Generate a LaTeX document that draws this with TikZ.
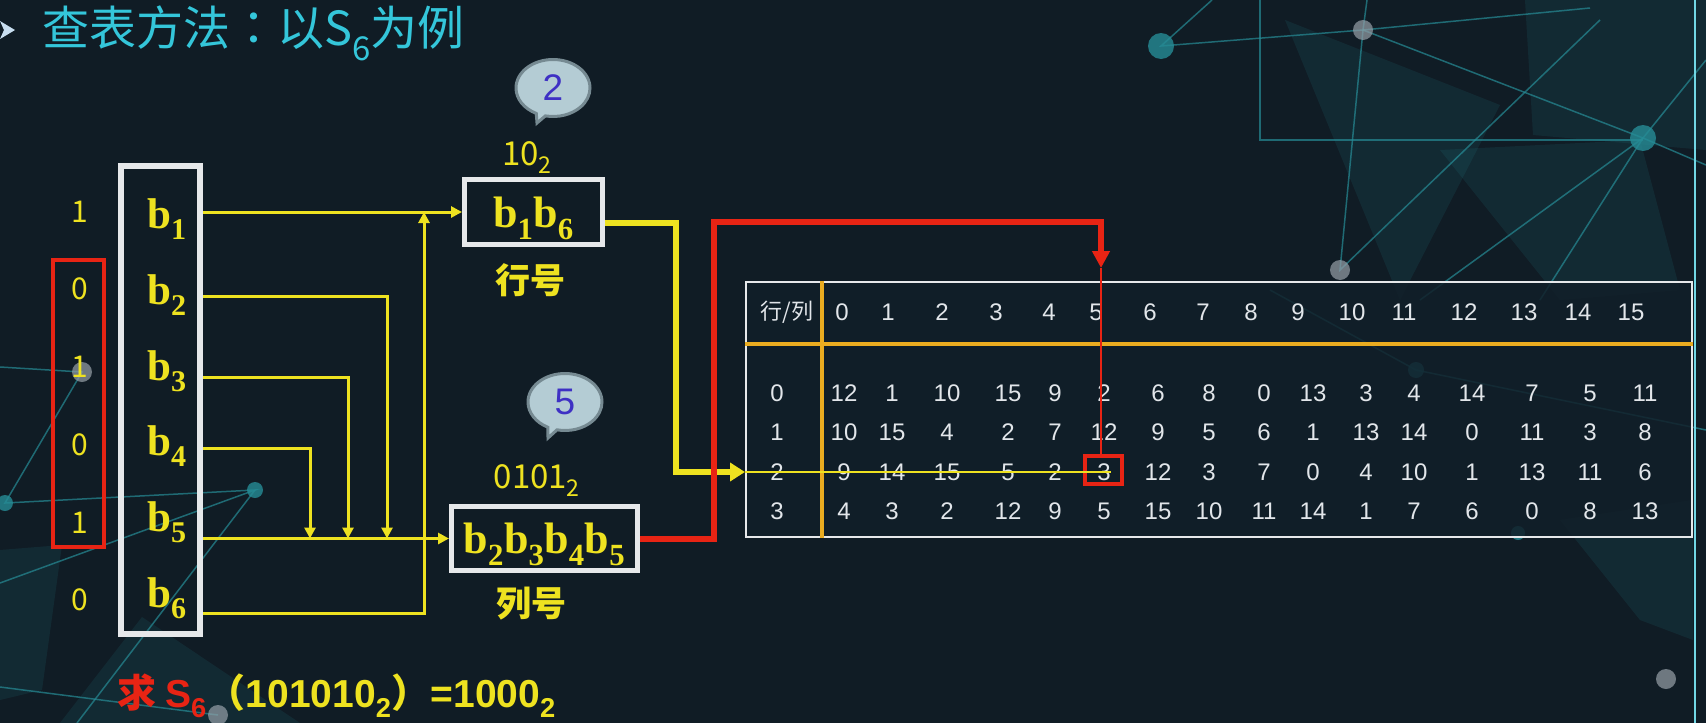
\documentclass[tikz,border=0pt]{standalone}
\usepackage{fontspec}
\setmainfont{Liberation Serif}
\newfontfamily\cjk{Noto Sans CJK SC}
\newfontfamily\cjktc{Noto Sans CJK TC}
\newfontfamily\arial{Liberation Sans}
\usetikzlibrary{arrows.meta,shapes.callouts}
\definecolor{bgnavy}{RGB}{16,28,37}
\definecolor{tblfill}{RGB}{17,31,41}
\definecolor{ttlcyan}{RGB}{52,198,218}
\definecolor{byellow}{RGB}{238,226,32}
\definecolor{bred}{RGB}{232,36,20}
\definecolor{boxwhite}{RGB}{230,232,234}
\definecolor{tblorange}{RGB}{234,172,32}
\definecolor{tbltext}{RGB}{226,230,234}
\definecolor{bubfill}{RGB}{180,204,212}
\definecolor{bubedge}{RGB}{118,138,146}
\definecolor{bubtext}{RGB}{62,48,196}
\definecolor{decoteal}{RGB}{38,140,150}
\definecolor{decogray}{RGB}{150,160,168}
\definecolor{bulletc}{RGB}{200,222,240}
\newcommand\fs[1]{\fontsize{#1}{#1}\selectfont}
\tikzset{
  bitdig/.style={anchor=base,inner sep=0pt,text=byellow,font=\cjk\fs{30}},
  bitlbl/.style={anchor=base west,inner sep=0pt,text=byellow,font=\bfseries\fs{43}},
  grpbox/.style={draw=boxwhite,line width=6pt,minimum width=79pt,minimum height=468pt},
  selbox/.style={draw=bred,line width=4pt,minimum width=51pt,minimum height=287pt},
  keybox/.style={draw=boxwhite,line width=5pt,text=byellow,font=\bfseries\fs{44},text depth=0pt,inner sep=0pt},
  binval/.style={anchor=base,inner sep=0pt,text=byellow,font=\cjk\fs{33}},
  keyname/.style={inner sep=0pt,text=byellow,font=\cjk\bfseries\fs{35}},
  bubble/.style={ellipse callout,draw=bubedge,line width=3pt,fill=bubfill,text=bubtext,font=\arial\fs{37},minimum width=74pt,minimum height=57pt,inner sep=0pt},
  ylink/.style={draw=byellow,line width=3pt,-{Triangle[length=11pt,width=11pt]}},
  ybold/.style={draw=byellow,line width=6pt,-{Triangle[length=15pt,width=18pt]}},
  rbold/.style={draw=bred,line width=6pt,-{Triangle[length=17pt,width=17pt]}},
  tblframe/.style={draw=boxwhite,line width=2pt,fill=tblfill,fill opacity=0.85,minimum width=946pt,minimum height=255pt},
  tblrule/.style={draw=tblorange,line width=4pt},
  cellnum/.style={inner sep=0pt,text=tbltext,font=\arial\fs{24}},
  hitbox/.style={draw=bred,line width=4.5pt,minimum width=37pt,minimum height=28pt,inner sep=0pt},
  decoln/.style={draw=decoteal,line width=1.5pt,opacity=0.7},
  decopane/.style={fill=decoteal,opacity=0.13}
}
\begin{document}
\begin{tikzpicture}[x=1pt,y=-1pt]
\useasboundingbox (0,0) rectangle (1706,723);
\fill[bgnavy] (0,0) rectangle (1706,723);
% background network
\fill[decopane] (1285,20) -- (1500,105) -- (1400,300) -- cycle;
\fill[decopane] (1525,0) -- (1706,0) -- (1706,150) -- (1533,135) -- cycle;
\fill[decopane] (1440,150) -- (1640,140) -- (1680,290) -- (1560,300) -- cycle;
\fill[decopane] (1560,520) -- (1693,500) -- (1693,640) -- (1640,620) -- cycle;
\fill[decopane] (142,617) -- (300,723) -- (60,723) -- cycle;
\fill[decopane] (0,550) -- (62,545) -- (42,690) -- (0,700) -- cycle;
\draw[decoln] (1212,0) -- (1161,46) -- (1363,30) -- (1590,8);
\draw[decoln] (1367,0) -- (1363,30) -- (1340,270) -- (1600,20);
\draw[decoln] (1363,30) -- (1643,138) -- (1706,165);
\draw[decoln] (1643,138) -- (1706,60);
\draw[decoln] (1643,138) -- (1420,300);
\draw[decoln] (1643,138) -- (1540,300);
\draw[decoln] (1260,0) -- (1260,140) -- (1643,140);
\draw[decoln] (1270,290) -- (1416,370) -- (1706,430);
\draw[decoln] (0,367) -- (82,372) -- (5,503) -- (255,490) -- (0,583);
\draw[decoln] (255,490) -- (77,723);
\draw[decoln] (0,687) -- (218,715);
\foreach \px/\py/\pr in {1161/46/13,1643/138/13,1416/370/8,1518/533/7,5/503/8,255/490/8}
  \fill[decoteal,opacity=0.8] (\px,\py) circle (\pr);
\foreach \px/\py/\pr in {1363/30/10,1340/270/10,1666/679/10,82/372/10,218/715/10}
  \fill[decogray,opacity=0.7] (\px,\py) circle (\pr);
\draw[ttlcyan!70!white,line width=2pt] (1695,0) -- (1695,723);

% title
\fill[bulletc] (0,21) -- (15,30) -- (0,39) -- (4,30) -- cycle;
\node[anchor=base west,inner sep=0pt,text=ttlcyan,font=\cjk\fs{47}] (title) at (42,45) {查表方法{\cjktc ：}以S\textsubscript{6}为例};

% input bits
\node[grpbox] (bits) at (160.5,400) {};
\node[selbox] (sel) at (78.5,403.5) {};
\foreach \d/\dy [count=\i] in {1/222,0/299,1/377,0/455,1/533,0/610}
  \node[bitdig] (d\i) at (80,\dy) {\d};
\foreach \i/\by in {1/228,2/304,3/380,4/455,5/531,6/607}
  \node[bitlbl] (b\i) at (147,\by) {b\textsubscript{\i}};

% row and column keys
\node[keybox,minimum width=138pt,minimum height=65pt] (rowbox) at (533.5,212) {b\textsubscript{1}b\textsubscript{6}};
\node[keybox,minimum width=186pt,minimum height=64pt] (colbox) at (544.5,538.5) {b\textsubscript{2}b\textsubscript{3}b\textsubscript{4}b\textsubscript{5}};
\node[binval] (rowbin) at (527,165) {10\textsubscript{2}};
\node[binval] (colbin) at (537,488) {0101\textsubscript{2}};
\node[keyname] (rowname) at (530,280) {行号};
\node[keyname] (colname) at (531,604) {列号};
\node[bubble,callout absolute pointer={(537,123)}] (bub2) at (553,88) {2};
\node[bubble,callout absolute pointer={(548,438)}] (bub5) at (565,402) {5};

% S-box table
\node[tblframe] (tbl) at (1219,409.5) {};
\draw[tblrule] (tbl.north -| 822,0) -- (tbl.south -| 822,0);
\draw[tblrule] (tbl.west |- 0,344) -- (tbl.east |- 0,344);
\node[cellnum,font=\cjk\fs{22}] (corner) at (787,312) {行/列};
\foreach \x [count=\c from 0] in {842,888,942,996,1049,1096,1150,1203,1251,1298,1352,1404,1464,1524,1578,1631}
  \node[cellnum] (h-\c) at (\x,312) {\c};
\foreach \r/\vals in {0/{12,1,10,15,9,2,6,8,0,13,3,4,14,7,5,11},
                      1/{10,15,4,2,7,12,9,5,6,1,13,14,0,11,3,8},
                      2/{9,14,15,5,2,3,12,3,7,0,4,10,1,13,11,6},
                      3/{4,3,2,12,9,5,15,10,11,14,1,7,6,0,8,13}} {
  \pgfmathsetmacro\ry{{393,432,472,511}[\r]}
  \node[cellnum] (r-\r) at (777,\ry) {\r};
  \foreach \v [count=\c from 0] in \vals {
    \pgfmathsetmacro\cx{{844,892,947,1008,1055,1104,1158,1209,1264,1313,1366,1414,1472,1532,1590,1645}[\c]}
    \node[cellnum] (c-\r-\c) at (\cx,\ry) {\v};
  }
}
\node[hitbox] (hit) at (1103.5,470) {};

% bit routing
\draw[ylink] (bits.east |- rowbox.west) -- (rowbox.west);
\draw[ylink] (bits.east |- colbox.west) -- (colbox.west);
\foreach \i/\ly/\jx in {2/296/387,3/377/348,4/448/310} {
  \coordinate (t\i) at (bits.east |- 0,\ly);
  \coordinate (m\i) at (\jx,0 |- colbox.west);
  \draw[ylink] (t\i) -| (m\i);
}
\coordinate (t6) at (bits.east |- 0,613);
\coordinate (m6) at (424,0 |- rowbox.west);
\draw[ylink] (t6) -| (m6);

% lookup
\coordinate (ybend) at (676,0 |- c-2-5);
\draw[ybold] ([yshift=-11pt]rowbox.east) -| (ybend) -- (tbl.west |- c-2-5);
\draw[byellow,line width=2.5pt] (tbl.west |- c-2-5) -- (c-2-5.east);
\coordinate (rbend) at (714,222);
\coordinate (rtip) at (1101,268);
\draw[rbold] (colbox.east) -| (rbend) -| (rtip);
\draw[bred,line width=2.5pt] (rtip) -- (rtip |- hit.north);

% query
\node[anchor=base west,inner sep=0pt,font=\bfseries\fs{39}] (query) at (117,707) {{\cjk\color{bred}求 }{\arial\color{bred}S\textsubscript{6}}{\cjk\color{byellow}（}{\arial\color{byellow}101010\textsubscript{2}}{\cjk\color{byellow}）}{\arial\color{byellow}=1000\textsubscript{2}}};
\end{tikzpicture}
\end{document}
